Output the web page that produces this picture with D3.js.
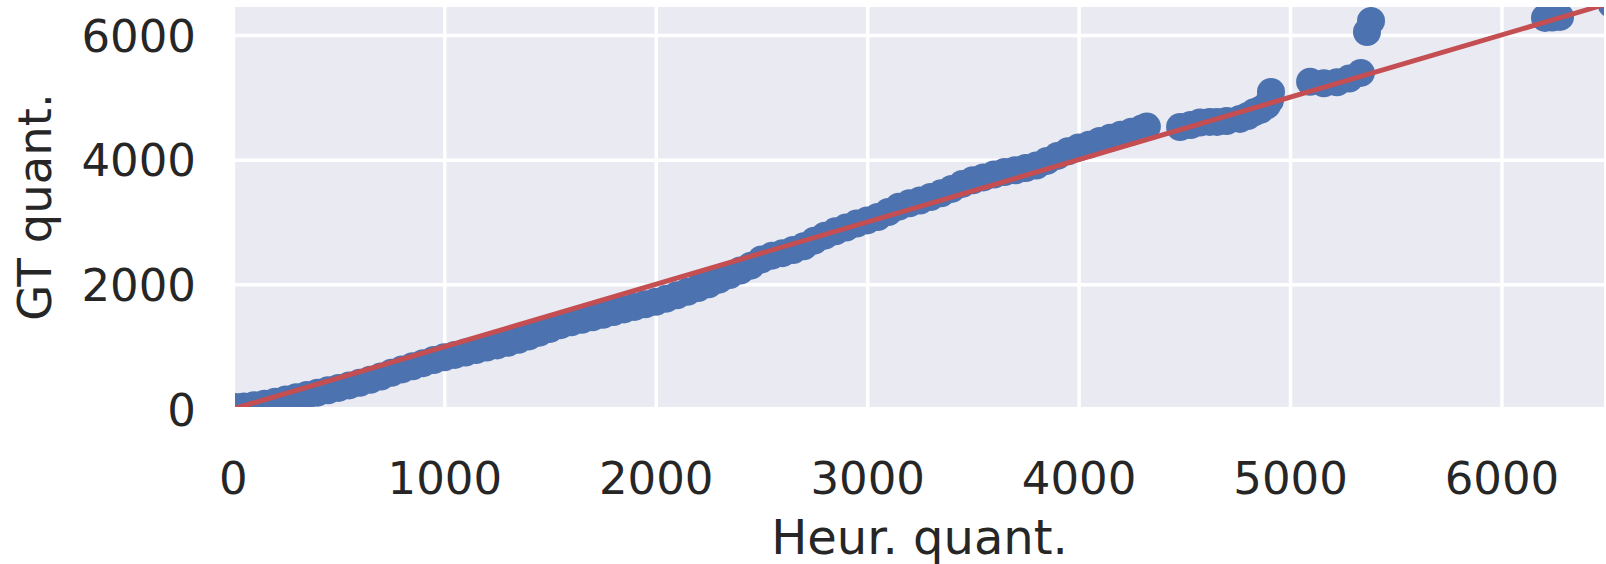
<!DOCTYPE html>
<html>
<head>
<meta charset="utf-8">
<script src="https://cdn.jsdelivr.net/npm/d3@7"></script>
<style>
  body { margin: 0; background: #fff; }
  text { font-family: 'DejaVu Sans', sans-serif; fill: #262626; }
</style>
</head>
<body>
<div id="chart"></div>
<script>
var heurQ = [10, 50, 100, 150, 200, 250, 300, 350, 400, 450, 500, 550, 600, 650, 700, 750, 800, 850, 900, 950,
  1000, 1050, 1100, 1150, 1200, 1250, 1300, 1350, 1400, 1450, 1500, 1550, 1600, 1650, 1700, 1750, 1800, 1850, 1900, 1950,
  2000, 2050, 2100, 2150, 2200, 2250, 2300, 2350, 2400, 2450, 2500, 2550, 2600, 2650, 2700, 2750, 2800, 2850, 2900, 2950,
  3000, 3050, 3100, 3150, 3200, 3250, 3300, 3350, 3400, 3450, 3500, 3550, 3600, 3650, 3700, 3750, 3800, 3850, 3900, 3950,
  4000, 4050, 4100, 4150, 4200, 4250, 4300, 4323,
  4480, 4530, 4574, 4620, 4655, 4700, 4763, 4800, 4830, 4860, 4890, 4905, 4910,
  5095, 5160, 5222, 5280, 5335, 5364, 5383,
  6206, 6240, 6277, 6520]
var gtQ = [30, 40, 62, 85, 118, 152, 190, 225, 262, 300, 338, 378, 420, 468, 520, 580, 635, 685, 735, 785,
  830, 868, 905, 945, 985, 1020, 1062, 1110, 1165, 1225, 1285, 1345, 1390, 1430, 1470, 1510, 1555, 1598, 1638, 1680,
  1720, 1770, 1825, 1880, 1940, 2000, 2075, 2150, 2220, 2300, 2400, 2460, 2500, 2550, 2610, 2700, 2780, 2850, 2910, 2975,
  3025, 3080, 3160, 3245, 3300, 3345, 3400, 3460, 3530, 3610, 3670, 3715, 3760, 3800, 3830, 3865, 3905, 3980, 4060, 4135,
  4195, 4240, 4300, 4350, 4400, 4448, 4500, 4530,
  4524, 4555, 4595, 4605, 4605, 4620, 4653, 4700, 4760, 4800, 4870, 4950, 5085,
  5250, 5225, 5240, 5300, 5391, 6048, 6225,
  6273, 6280, 6289, 6495]

var xTicks = [0, 1000, 2000, 3000, 4000, 5000, 6000]
var yTicks = [0, 2000, 4000, 6000]

var width = 1606
var height = 564
var plotLeft = 235, plotRight = 1604, plotTop = 7, plotBottom = 407
var radius = 14

var svg = d3.select('#chart').append('svg')
    .attr('width', width)
    .attr('height', height)

var x = d3.scaleLinear().domain([10, 6485]).range([plotLeft, plotRight])
var y = d3.scaleLinear().domain([32, 6449]).range([plotBottom, plotTop])

svg.append('clipPath').attr('id', 'clip')
  .append('rect')
    .attr('x', plotLeft).attr('y', plotTop)
    .attr('width', plotRight - plotLeft).attr('height', plotBottom - plotTop)

// fond seaborn
svg.append('rect')
    .attr('x', plotLeft).attr('y', plotTop)
    .attr('width', plotRight - plotLeft).attr('height', plotBottom - plotTop)
    .attr('fill', '#eaeaf2')

var xAxis = svg.append('g')
    .attr('transform', 'translate(0,' + plotBottom + ')')
    .call(d3.axisBottom(x).tickValues(xTicks).tickSize(-(plotBottom - plotTop)).tickFormat(d3.format('d')))
xAxis.select('.domain').remove()
xAxis.selectAll('line').attr('stroke', '#fff').attr('stroke-width', 3.5)
xAxis.selectAll('text').attr('font-size', 45).attr('y', 87).attr('dy', 0)

var yAxis = svg.append('g')
    .attr('transform', 'translate(' + plotLeft + ',0)')
    .call(d3.axisLeft(y).tickValues(yTicks).tickSize(-(plotRight - plotLeft)).tickFormat(d3.format('d')))
yAxis.select('.domain').remove()
yAxis.selectAll('line').attr('stroke', '#fff').attr('stroke-width', 3.5)
yAxis.selectAll('text').attr('font-size', 45).attr('x', -39).attr('dy', '0.36em')
svg.selectAll('.tick text').attr('fill', '#262626').style('font-family', "'DejaVu Sans', sans-serif")

var points = heurQ.map(function (d, i) { return { h: d, g: gtQ[i] } })

var plot = svg.append('g').attr('clip-path', 'url(#clip)')

plot.selectAll('circle')
    .data(points)
    .enter().append('circle')
    .attr('cx', function (d) { return x(d.h) })
    .attr('cy', function (d) { return y(d.g) })
    .attr('r', radius)
    .attr('fill', '#4c72b0')

// droite y = x
plot.append('line')
    .attr('x1', x(0)).attr('y1', y(0))
    .attr('x2', x(7000)).attr('y2', y(7000))
    .attr('stroke', '#c44e52')
    .attr('stroke-width', 5)

svg.append('text')
    .attr('x', (plotLeft + plotRight) / 2)
    .attr('y', 554)
    .attr('text-anchor', 'middle')
    .attr('font-size', 48)
    .text('Heur. quant.')

svg.append('text')
    .attr('transform', 'translate(51,' + ((plotTop + plotBottom) / 2) + ') rotate(-90)')
    .attr('text-anchor', 'middle')
    .attr('font-size', 46.5)
    .text('GT quant.')
</script>
</body>
</html>
